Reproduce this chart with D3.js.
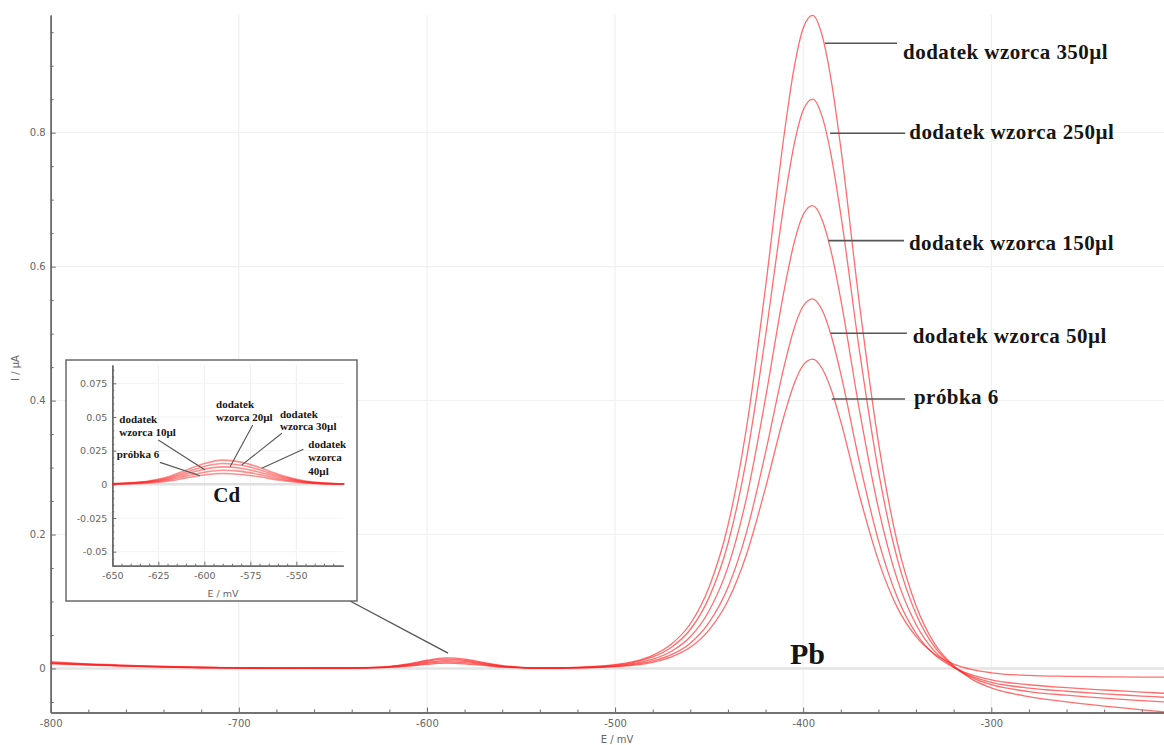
<!DOCTYPE html>
<html>
<head>
<meta charset="utf-8">
<script src="https://cdn.jsdelivr.net/npm/d3@7"></script>
<style>
  body { margin: 0; background: #fff; }
  svg { display: block; }
  .axis path, .axis line { stroke: #6a6a6a; }
  .axis path { stroke-width: 1.5; }
  .axis text { font-family: "DejaVu Sans", sans-serif; fill: #666; }
  .lbl { font-family: "Liberation Serif", "Times New Roman", serif; font-weight: bold; fill: #151515; }
  .ttl { font-family: "DejaVu Sans", sans-serif; fill: #666; }
</style>
</head>
<body>
<div id="chart"></div>
<script>
// --- dane: wykres główny (E / mV, I / µA) ---
const mainE = [-800, -780, -760, -740, -720, -700, -680, -660,
  -640, -630, -620, -610, -600, -590, -580, -570, -560, -550, -540,
  -520, -500, -490, -480, -470, -460, -450, -440, -430, -420, -410, -405, -400, -395, -390, -385, -380,
  -370, -360, -350, -340, -330, -320, -310, -300,
  -280, -260, -240, -220, -208];

const probka6 = [0.008, 0.006, 0.004, 0.0025, 0.0015, 0.001, 0.0005, 0.0005,
  0.0006, 0.0009, 0.0016, 0.0034, 0.0062, 0.0079, 0.007, 0.0046, 0.0022, 0.0009, 0.0004,
  0.0009, 0.0027, 0.005, 0.0093, 0.0173, 0.0316, 0.0577, 0.1012, 0.1714, 0.270, 0.3788, 0.4237, 0.453, 0.462, 0.4483, 0.4154, 0.3685,
  0.2575, 0.161, 0.0912, 0.0475, 0.0213, 0.0064, -0.0018, -0.0064,
  -0.0103, -0.0117, -0.0124, -0.0128, -0.013];

const wzorzec50 = [0.009, 0.006, 0.004, 0.003, 0.0015, 0.001, 0.0005, 0.0006,
  0.0007, 0.0011, 0.002, 0.0043, 0.0077, 0.0099, 0.0088, 0.0057, 0.0027, 0.0012, 0.0005,
  0.001, 0.0032, 0.006, 0.0112, 0.0206, 0.0378, 0.0689, 0.1209, 0.2048, 0.3226, 0.4526, 0.5062, 0.5412, 0.552, 0.5355, 0.4961, 0.44,
  0.3069, 0.1909, 0.1064, 0.0525, 0.02, 0.0016, -0.01, -0.0169,
  -0.0243, -0.0286, -0.0321, -0.0352, -0.037];

const wzorzec150 = [0.007, 0.005, 0.0035, 0.002, 0.001, 0.0005, 0.0005, 0.0006,
  0.0007, 0.0012, 0.0024, 0.0052, 0.0092, 0.0119, 0.0106, 0.0068, 0.0032, 0.0014, 0.0006,
  0.0013, 0.004, 0.0075, 0.014, 0.0258, 0.0473, 0.0863, 0.1513, 0.2564, 0.4039, 0.5666, 0.6336, 0.6775, 0.691, 0.6704, 0.621, 0.5508,
  0.3842, 0.239, 0.1331, 0.0657, 0.0251, 0.0021, -0.0122, -0.0206,
  -0.0292, -0.034, -0.0379, -0.0411, -0.043];

const wzorzec250 = [0.010, 0.007, 0.005, 0.003, 0.002, 0.001, 0.0005, 0.0008,
  0.0008, 0.0014, 0.0028, 0.006, 0.0108, 0.0139, 0.0123, 0.008, 0.0038, 0.0016, 0.0007,
  0.0015, 0.0049, 0.0092, 0.0172, 0.0318, 0.0582, 0.1062, 0.1862, 0.3154, 0.4968, 0.697, 0.7795, 0.8334, 0.85, 0.8247, 0.764, 0.6777,
  0.4727, 0.2942, 0.1641, 0.0814, 0.0314, 0.0031, -0.0141, -0.0242,
  -0.0344, -0.0399, -0.0443, -0.0479, -0.050];

const wzorzec350 = [0.008, 0.006, 0.004, 0.0025, 0.0015, 0.001, 0.0005, 0.0008,
  0.0009, 0.0016, 0.0032, 0.0069, 0.0123, 0.0158, 0.0141, 0.0091, 0.0043, 0.0018, 0.0008,
  0.0018, 0.0057, 0.0105, 0.0197, 0.0365, 0.0668, 0.1218, 0.2135, 0.3617, 0.5699, 0.7995, 0.8941, 0.956, 0.975, 0.9459, 0.8763, 0.7773,
  0.5422, 0.3376, 0.1883, 0.0936, 0.0364, 0.004, -0.0166, -0.0288,
  -0.0421, -0.0497, -0.0561, -0.0617, -0.065];

const xTicks = [-800, -700, -600, -500, -400, -300];
const yTicks = [0, 0.2, 0.4, 0.6, 0.8];

// --- dane: wstawka Cd ---
const cdE = [-650, -640, -630, -620, -610, -600, -590, -580, -570, -560, -550, -540, -530, -524];
const cdProbka6 = [0.0002, 0.0005, 0.0011, 0.0024, 0.0047, 0.0069, 0.008, 0.0073, 0.0056, 0.0033, 0.0016, 0.0007, 0.0003, 0.0002];
const cd10 = [0.0003, 0.0007, 0.0015, 0.0032, 0.0061, 0.009, 0.0105, 0.0096, 0.0073, 0.0044, 0.0022, 0.0009, 0.0003, 0.0002];
const cd20 = [0.0004, 0.0009, 0.0018, 0.004, 0.0076, 0.0112, 0.013, 0.0119, 0.009, 0.0054, 0.0027, 0.0011, 0.0004, 0.0003];
const cd30 = [0.0004, 0.001, 0.0022, 0.0047, 0.009, 0.0133, 0.0155, 0.0142, 0.0108, 0.0065, 0.0032, 0.0013, 0.0005, 0.0003];
const cd40 = [0.0005, 0.0012, 0.0025, 0.0055, 0.0105, 0.0155, 0.018, 0.0165, 0.0125, 0.0075, 0.0037, 0.0015, 0.0006, 0.0004];

const cdXTicks = [-650, -625, -600, -575, -550];
const cdYTicks = [-0.05, -0.025, 0, 0.025, 0.05, 0.075];

// --- opisy ---
const pbLabels = ["dodatek wzorca 350µl", "dodatek wzorca 250µl", "dodatek wzorca 150µl", "dodatek wzorca 50µl", "próbka 6"];
const cdLabels = [["dodatek", "wzorca 10µl"], ["próbka 6"], ["dodatek", "wzorca 20µl"], ["dodatek", "wzorca 30µl"], ["dodatek", "wzorca", "40µl"]];

// położenie opisów w jednostkach osi: [E linii od, E linii do, I linii, E tekstu, I linii bazowej]
const pbLabelPos = [
  [-388.4, -350.1, 0.9335, -346.9, 0.910],
  [-385.7, -345.8, 0.7991, -343.6, 0.790],
  [-386.6, -346.4, 0.6388, -343.8, 0.6249],
  [-385.4, -344.9, 0.5005, -341.8, 0.4856],
  [-384.8, -345.9, 0.4024, -341.1, 0.3949]
];
// [E1, I1, E2, I2, E tekstu, I pierwszej linii, odstęp]
const cdLabelPos = [
  [-625.0, 0.0329, -599.6, 0.0106, -646.2, 0.0457, 0.0098],
  [-624.1, 0.0163, -602.3, 0.0064, -647.6, 0.0198, 0.0098],
  [-573.7, 0.0440, -586.0, 0.0131, -593.6, 0.0564, 0.0092],
  [-557.9, 0.0379, -579.7, 0.0143, -558.9, 0.0490, 0.0087],
  [-546.2, 0.0260, -568.8, 0.0119, -543.5, 0.0267, 0.0097]
];

const W = 1164, H = 745;
const fmt = d => String(+d.toFixed(3));

const svg = d3.select("#chart").append("svg")
  .attr("width", W)
  .attr("height", H);

// skale główne
const x = d3.scaleLinear().domain([-800, -208.2]).range([50.7, 1164]);
const y = d3.scaleLinear().domain([-0.0657, 0.9757]).range([712.5, 15]);

// siatka
svg.append("g").selectAll("line")
  .data(xTicks.slice(1))
  .join("line")
  .attr("x1", d => x(d)).attr("x2", d => x(d))
  .attr("y1", y.range()[1]).attr("y2", y.range()[0])
  .attr("stroke", "#ededed");

svg.append("g").selectAll("line")
  .data(yTicks)
  .join("line")
  .attr("x1", x.range()[0]).attr("x2", W)
  .attr("y1", d => y(d)).attr("y2", d => y(d))
  .attr("stroke", d => d === 0 ? "#e3e3e3" : "#efefef")
  .attr("stroke-width", d => d === 0 ? 2.5 : 1);

// osie
const xMinor = d3.range(-800, -208, 20).filter(d => d % 100 !== 0);
const yMinor = d3.range(-0.05, 0.96, 0.05).filter(d => Math.abs(d / 0.2 - Math.round(d / 0.2)) > 0.01);

svg.append("g")
  .attr("class", "axis")
  .attr("transform", `translate(0,${y.range()[0]})`)
  .call(d3.axisBottom(x).tickValues(xMinor).tickSize(-3).tickSizeOuter(0).tickFormat(""));
svg.append("g")
  .attr("class", "axis")
  .attr("transform", `translate(0,${y.range()[0]})`)
  .call(d3.axisBottom(x).tickValues(xTicks).tickSize(-5).tickSizeOuter(0).tickPadding(7).tickFormat(fmt))
  .call(g => g.selectAll("text").attr("font-size", 10));

svg.append("g")
  .attr("class", "axis")
  .attr("transform", `translate(${x.range()[0]},0)`)
  .call(d3.axisLeft(y).tickValues(yMinor).tickSize(-3).tickSizeOuter(0).tickFormat(""));
svg.append("g")
  .attr("class", "axis")
  .attr("transform", `translate(${x.range()[0]},0)`)
  .call(d3.axisLeft(y).tickValues(yTicks).tickSize(-5).tickSizeOuter(0).tickPadding(5).tickFormat(fmt))
  .call(g => g.selectAll("text").attr("font-size", 10));

svg.append("text").attr("class", "ttl")
  .attr("x", 617).attr("y", 743)
  .attr("text-anchor", "middle").attr("font-size", 10)
  .text("E / mV");

svg.append("text").attr("class", "ttl")
  .attr("transform", "translate(19,368) rotate(-90)")
  .attr("text-anchor", "middle").attr("font-size", 10)
  .text("I / µA");

// krzywe
const mainSeries = [probka6, wzorzec50, wzorzec150, wzorzec250, wzorzec350];
const line = d3.line()
  .x((d, i) => x(mainE[i]))
  .y(d => y(d))
  .curve(d3.curveMonotoneX);

svg.append("g").selectAll("path")
  .data(mainSeries)
  .join("path")
  .attr("d", line)
  .attr("fill", "none")
  .attr("stroke", "#ff2020")
  .attr("stroke-opacity", 0.65)
  .attr("stroke-width", 1.3);

// opisy Pb
const pbG = svg.append("g");
pbG.selectAll("line")
  .data(pbLabelPos)
  .join("line")
  .attr("x1", d => x(d[0])).attr("x2", d => x(d[1]))
  .attr("y1", d => y(d[2])).attr("y2", d => y(d[2]))
  .attr("stroke", "#555").attr("stroke-width", 1.6);
pbG.selectAll("text")
  .data(pbLabelPos)
  .join("text")
  .attr("class", "lbl")
  .attr("x", d => x(d[3])).attr("y", d => y(d[4]))
  .attr("font-size", 21)
  .attr("letter-spacing", 0.45)
  .text((d, i) => pbLabels[i]);

svg.append("text").attr("class", "lbl")
  .attr("x", x(-407)).attr("y", y(0.0067))
  .attr("font-size", 30)
  .text("Pb");

// łącznik wstawki
svg.append("line")
  .attr("x1", 350).attr("y1", 601)
  .attr("x2", x(-588.8)).attr("y2", y(0.0231))
  .attr("stroke", "#555").attr("stroke-width", 1.4);

// --- wstawka Cd ---
const inset = svg.append("g");
inset.append("rect")
  .attr("x", 66).attr("y", 360)
  .attr("width", 291).attr("height", 241)
  .attr("fill", "#fff")
  .attr("stroke", "#6a6a6a").attr("stroke-width", 1.5);

const xi = d3.scaleLinear().domain([-650, -524.5]).range([112.3, 343.3]);
const yi = d3.scaleLinear().domain([-0.0604, 0.0886]).range([565.7, 365]);

inset.append("g").selectAll("line")
  .data(cdXTicks.slice(1))
  .join("line")
  .attr("x1", d => xi(d)).attr("x2", d => xi(d))
  .attr("y1", yi.range()[1]).attr("y2", yi.range()[0])
  .attr("stroke", "#efefef");
inset.append("g").selectAll("line")
  .data(cdYTicks)
  .join("line")
  .attr("x1", xi.range()[0]).attr("x2", xi.range()[1])
  .attr("y1", d => yi(d)).attr("y2", d => yi(d))
  .attr("stroke", d => d === 0 ? "#e0e0e0" : "#f3f3f3")
  .attr("stroke-width", d => d === 0 ? 2.5 : 1);

const cdXMinor = d3.range(-650, -524, 5).filter(d => d % 25 !== 0);
const cdYMinor = d3.range(-0.06, 0.0881, 0.005).filter(d => Math.abs(d / 0.025 - Math.round(d / 0.025)) > 0.01);

inset.append("g").attr("class", "axis")
  .attr("transform", `translate(0,${yi.range()[0]})`)
  .call(d3.axisBottom(xi).tickValues(cdXMinor).tickSize(-2).tickSizeOuter(0).tickFormat(""));
inset.append("g").attr("class", "axis")
  .attr("transform", `translate(0,${yi.range()[0]})`)
  .call(d3.axisBottom(xi).tickValues(cdXTicks).tickSize(-4).tickSizeOuter(0).tickPadding(7).tickFormat(fmt))
  .call(g => g.selectAll("text").attr("font-size", 9.5));
inset.append("g").attr("class", "axis")
  .attr("transform", `translate(${xi.range()[0]},0)`)
  .call(d3.axisLeft(yi).tickValues(cdYMinor).tickSize(-2).tickSizeOuter(0).tickFormat(""));
inset.append("g").attr("class", "axis")
  .attr("transform", `translate(${xi.range()[0]},0)`)
  .call(d3.axisLeft(yi).tickValues(cdYTicks).tickSize(-4).tickSizeOuter(0).tickPadding(5).tickFormat(fmt))
  .call(g => g.selectAll("text").attr("font-size", 9.5));

inset.append("text").attr("class", "ttl")
  .attr("x", xi(-589.8)).attr("y", 597)
  .attr("text-anchor", "middle").attr("font-size", 9.5)
  .text("E / mV");

const cdSeries = [cdProbka6, cd10, cd20, cd30, cd40];
const cdLine = d3.line()
  .x((d, i) => xi(cdE[i]))
  .y(d => yi(d))
  .curve(d3.curveMonotoneX);

inset.append("g").selectAll("path")
  .data(cdSeries)
  .join("path")
  .attr("d", cdLine)
  .attr("fill", "none")
  .attr("stroke", "#ff2020")
  .attr("stroke-opacity", 0.5)
  .attr("stroke-width", 1.6);

inset.append("g").selectAll("line")
  .data(cdLabelPos)
  .join("line")
  .attr("x1", d => xi(d[0])).attr("y1", d => yi(d[1]))
  .attr("x2", d => xi(d[2])).attr("y2", d => yi(d[3]))
  .attr("stroke", "#555").attr("stroke-width", 1.1);

inset.append("g").selectAll("text")
  .data(cdLabelPos)
  .join("text")
  .attr("class", "lbl")
  .attr("font-size", 11)
  .each(function (d, i) {
    d3.select(this).selectAll("tspan")
      .data(cdLabels[i])
      .join("tspan")
      .attr("x", xi(d[4]))
      .attr("y", (t, j) => yi(d[5] - j * d[6]))
      .text(t => t);
  });

inset.append("text").attr("class", "lbl")
  .attr("x", xi(-595.1)).attr("y", yi(-0.0129))
  .attr("font-size", 21)
  .text("Cd");
</script>
</body>
</html>
